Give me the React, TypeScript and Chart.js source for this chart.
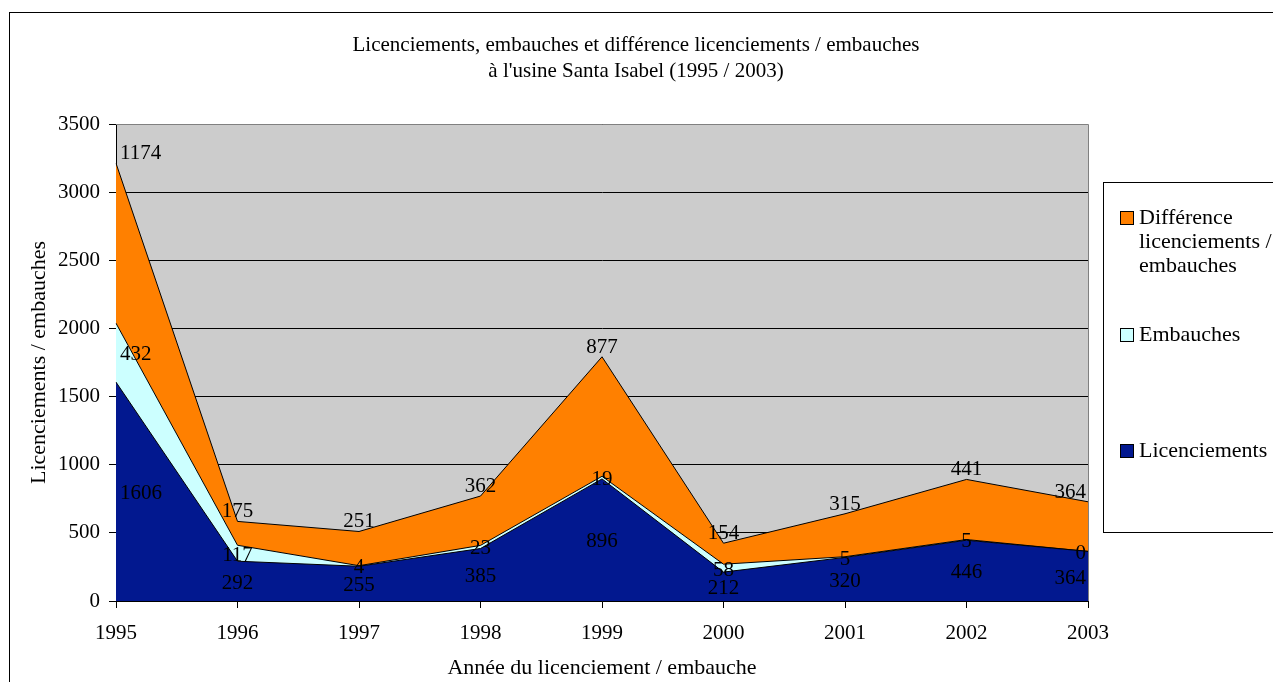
import React, { useEffect, useRef } from "react";
import { Chart, registerables } from "chart.js";

Chart.register(...registerables);

const years = ["1995", "1996", "1997", "1998", "1999", "2000", "2001", "2002", "2003"];
const licenciements = [1606, 292, 255, 385, 896, 212, 320, 446, 364];
const embauches = [432, 117, 4, 23, 19, 58, 5, 5, 0];
const difference = [1174, 175, 251, 362, 877, 154, 315, 441, 364];
const yTicks = [0, 500, 1000, 1500, 2000, 2500, 3000, 3500];

const titleLines = [
  "Licenciements, embauches et différence licenciements / embauches",
  "à l'usine Santa Isabel (1995 / 2003)",
];
const xTitle = "Année du licenciement / embauche";
const yTitle = "Licenciements / embauches";

const seriesNames = ["Licenciements", "Embauches", "Différence licenciements / embauches"];
const colors = ["#02188F", "#CCFFFF", "#FF8000"];

const FONT = '"Liberation Serif", "Times New Roman", serif';

const framePlugin = {
  id: "frame",
  beforeDraw(chart: any) {
    const { ctx, chartArea } = chart;
    ctx.save();
    ctx.fillStyle = "#fff";
    ctx.fillRect(0, 0, chart.width, chart.height);
    ctx.strokeStyle = "#000";
    ctx.lineWidth = 1;
    ctx.strokeRect(9.5, 12.5, 3000, 3000);
    ctx.fillStyle = "#CCCCCC";
    ctx.fillRect(chartArea.left, chartArea.top, chartArea.right - chartArea.left, chartArea.bottom - chartArea.top);
    // title
    ctx.fillStyle = "#000";
    ctx.font = `21px ${FONT}`;
    ctx.textAlign = "center";
    ctx.textBaseline = "middle";
    ctx.fillText(titleLines[0], 636, 45);
    ctx.fillText(titleLines[1], 636, 71);
    ctx.restore();
  },
  beforeDatasetsDraw(chart: any) {
    const { ctx, chartArea } = chart;
    ctx.save();
    ctx.strokeStyle = "#808080";
    ctx.lineWidth = 1;
    ctx.beginPath();
    ctx.moveTo(chartArea.left, chartArea.top + 0.5);
    ctx.lineTo(chartArea.right + 0.5, chartArea.top + 0.5);
    ctx.lineTo(chartArea.right + 0.5, chartArea.bottom);
    ctx.stroke();
    ctx.restore();
  },
  afterDatasetsDraw(chart: any) {
    const { ctx } = chart;
    const x = chart.scales.x;
    const y = chart.scales.y;
    const series = [licenciements, embauches, difference];
    const n = years.length;
    ctx.save();
    ctx.fillStyle = "#000";
    ctx.font = `21px ${FONT}`;
    for (let i = 0; i < n; i++) {
      const px = x.getPixelForValue(i);
      let tx = px;
      let align: CanvasTextAlign = "center";
      if (i === 0) {
        tx = px + 4;
        align = "left";
      } else if (i === n - 1) {
        tx = px - 2;
        align = "right";
      }
      ctx.textAlign = align;
      let base = 0;
      series.forEach((vals, d) => {
        const v = vals[i];
        const top = base + v;
        if (d < 2) {
          const cy = (y.getPixelForValue(base) + y.getPixelForValue(top)) / 2;
          ctx.textBaseline = "middle";
          ctx.fillText(String(v), tx, cy + 2);
        } else {
          const cy = y.getPixelForValue(top) - 4;
          ctx.textBaseline = "alphabetic";
          ctx.fillText(String(v), tx, cy);
        }
        base = top;
      });
    }
    ctx.restore();

    // legend
    ctx.save();
    ctx.strokeStyle = "#000";
    ctx.lineWidth = 1;
    ctx.fillStyle = "#fff";
    ctx.fillRect(1103.5, 182.5, 300, 350);
    ctx.strokeRect(1103.5, 182.5, 300, 350);
    const items = [
      { color: colors[2], lines: ["Différence", "licenciements /", "embauches"], y: 218 },
      { color: colors[1], lines: [seriesNames[1]], y: 335 },
      { color: colors[0], lines: [seriesNames[0]], y: 451 },
    ];
    ctx.font = `22px ${FONT}`;
    ctx.textAlign = "left";
    ctx.textBaseline = "middle";
    items.forEach((it) => {
      ctx.fillStyle = it.color;
      ctx.fillRect(1120.5, it.y - 6.5, 13, 13);
      ctx.strokeStyle = "#000";
      ctx.strokeRect(1120.5, it.y - 6.5, 13, 13);
      ctx.fillStyle = "#000";
      it.lines.forEach((t, k) => ctx.fillText(t, 1139, it.y + k * 24));
    });
    ctx.restore();
  },
};

export default function App() {
  const ref = useRef<HTMLCanvasElement>(null);
  useEffect(() => {
    if (!ref.current) return;
    const chart = new Chart(ref.current, {
      type: "line",
      data: {
        labels: years,
        datasets: [
          {
            label: seriesNames[0],
            data: licenciements,
            backgroundColor: colors[0],
            borderColor: "#000",
            borderWidth: 1,
            fill: "origin",
            pointRadius: 0,
            tension: 0,
          },
          {
            label: seriesNames[1],
            data: embauches,
            backgroundColor: colors[1],
            borderColor: "#000",
            borderWidth: 1,
            fill: "-1",
            pointRadius: 0,
            tension: 0,
          },
          {
            label: seriesNames[2],
            data: difference,
            backgroundColor: colors[2],
            borderColor: "#000",
            borderWidth: 1,
            fill: "-1",
            pointRadius: 0,
            tension: 0,
          },
        ],
      },
      options: {
        responsive: false,
        animation: false,
        devicePixelRatio: 1,
        layout: { padding: { top: 124, right: 185, bottom: 0, left: 0 } },
        plugins: {
          legend: { display: false },
          title: { display: false },
          tooltip: { enabled: false },
        },
        scales: {
          x: {
            type: "category",
            offset: false,
            stacked: true,
            grid: { drawOnChartArea: false, drawTicks: true, tickLength: 7, color: "#000" },
            border: { color: "#000" },
            ticks: { color: "#000", font: { family: FONT, size: 21 }, padding: 13, maxRotation: 0, autoSkip: false },
            title: { display: true, text: xTitle, color: "#000", font: { family: FONT, size: 22 }, padding: { top: 0, bottom: 1 } },
            afterFit: (s: any) => {
              s.height = 81;
            },
          },
          y: {
            stacked: true,
            min: 0,
            max: 3500,
            afterBuildTicks: (s: any) => {
              s.ticks = yTicks.map((v) => ({ value: v }));
            },
            grid: { color: "#000", tickLength: 7 },
            border: { color: "#000" },
            ticks: {
              color: "#000",
              font: { family: FONT, size: 21 },
              padding: 9,
              callback: (v: any) => String(v),
            },
            title: { display: true, text: yTitle, color: "#000", font: { family: FONT, size: 22 }, padding: { top: 26, bottom: 0 } },
            afterFit: (s: any) => {
              s.width = 116;
            },
          },
        },
      },
      plugins: [framePlugin],
    });
    return () => chart.destroy();
  }, []);
  return (
    <div style={{ position: "fixed", left: 0, top: 0, width: 1273, height: 682, background: "#fff" }}>
      <canvas ref={ref} width={1273} height={682} style={{ display: "block" }} />
    </div>
  );
}
